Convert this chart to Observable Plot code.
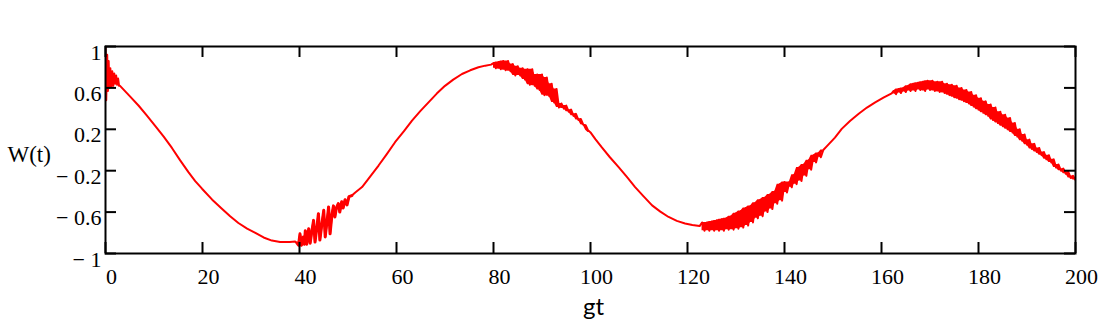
<!DOCTYPE html>
<html>
<head>
<meta charset="utf-8">
<script src="https://cdn.jsdelivr.net/npm/d3@7"></script>
<script src="https://cdn.jsdelivr.net/npm/@observablehq/plot@0.6"></script>
<style>
  html, body { margin: 0; padding: 0; background: #fff; }
</style>
</head>
<body>
<div id="chart"></div>
<script>
// ---- data: [gt, W(t)] ----
const startBurst = [
  [0, 1.0], [0.15, 0.48], [0.35, 0.92], [0.5, 0.57], [0.65, 0.86], [0.8, 0.60],
  [1.0, 0.79], [1.2, 0.61], [1.4, 0.76], [1.6, 0.62], [1.8, 0.74], [2.0, 0.64],
  [2.2, 0.72], [2.4, 0.63], [2.6, 0.69], [2.8, 0.62]
];
const descent1 = [
  [3.0, 0.62], [5, 0.52], [6.8, 0.43], [8.5, 0.335], [10.2, 0.236], [12, 0.13],
  [13.7, 0.02], [15.4, -0.10], [17.1, -0.214], [18.5, -0.30], [19.9, -0.374],
  [22, -0.48], [24, -0.567], [25.7, -0.64], [27.4, -0.705], [29.2, -0.76],
  [30.9, -0.80], [32.6, -0.845], [34.3, -0.875], [36, -0.888], [38, -0.888], [39.1, -0.885]
];
const trough1Jitter = [
  [39.5, -0.90], [39.8, -0.92], [40.1, -0.81], [40.4, -0.92], [40.8, -0.84], [41.0, -0.91],
  [41.2, -0.78], [41.5, -0.91], [41.9, -0.76], [42.2, -0.90], [42.5, -0.80], [42.9, -0.68],
  [43.2, -0.89], [43.6, -0.74], [43.9, -0.615], [44.2, -0.87], [44.6, -0.72], [45.0, -0.583],
  [45.3, -0.84], [45.7, -0.68], [46.0, -0.551], [46.3, -0.81], [46.7, -0.62], [47.0, -0.54],
  [47.3, -0.647], [47.6, -0.56], [48.0, -0.518], [48.3, -0.60], [48.7, -0.50], [49.0, -0.56],
  [49.4, -0.48], [49.8, -0.53], [50.2, -0.45], [50.8, -0.44]
];
const rise1 = [
  [51.5, -0.41], [52.9, -0.358], [54.6, -0.255], [56.3, -0.15], [58, -0.04], [59.7, 0.075],
  [61.5, 0.18], [63.2, 0.284], [64.9, 0.375], [66.6, 0.46], [68.3, 0.545], [70, 0.62],
  [71.7, 0.68], [73.5, 0.734], [75.2, 0.77], [76.9, 0.80], [78.3, 0.815], [79.5, 0.825]
];
const peak1Jitter = [
  [80.0, 0.84], [80.5, 0.79], [81.0, 0.85], [81.5, 0.78], [82.0, 0.86], [82.5, 0.77],
  [83.0, 0.86], [83.5, 0.76], [84.0, 0.83], [84.5, 0.72], [85.0, 0.81], [85.5, 0.72],
  [86.0, 0.79], [86.5, 0.68], [87.0, 0.78], [87.5, 0.63], [88.0, 0.78], [88.5, 0.62],
  [89.0, 0.73], [89.5, 0.58], [90.0, 0.73], [90.5, 0.53], [91.0, 0.70], [91.5, 0.52],
  [92.0, 0.64], [92.5, 0.46], [93.0, 0.59], [93.5, 0.41], [94.0, 0.45], [94.5, 0.40],
  [95.0, 0.43], [95.5, 0.37], [96.0, 0.39], [96.5, 0.33], [97.0, 0.35], [97.5, 0.29],
  [98.0, 0.30], [98.5, 0.245], [99.0, 0.24], [99.5, 0.19], [100.0, 0.17]
];
const descent2 = [
  [101, 0.105], [102.3, 0.027], [104, -0.07], [105.8, -0.166], [107.5, -0.26],
  [109.2, -0.358], [111, -0.45], [112.7, -0.535], [114.4, -0.595], [116.1, -0.647],
  [117.8, -0.685], [119.5, -0.71], [121, -0.725], [122.5, -0.735]
];
const trough2Jitter = [
  [123.0, -0.70], [123.5, -0.78], [124.0, -0.70], [124.5, -0.78], [125.0, -0.69], [125.5, -0.78],
  [126.0, -0.68], [126.5, -0.78], [127.0, -0.67], [127.5, -0.78], [128.0, -0.66], [128.5, -0.77],
  [129.0, -0.64], [129.5, -0.77], [130.0, -0.61], [130.5, -0.76], [131.0, -0.59], [131.5, -0.75],
  [132.0, -0.56], [132.5, -0.73], [133.0, -0.54], [133.5, -0.70], [134.0, -0.51], [134.5, -0.66],
  [135.0, -0.48], [135.5, -0.64], [136.0, -0.46], [136.5, -0.60], [137.0, -0.43], [137.5, -0.57],
  [138.0, -0.40], [138.5, -0.52], [139.0, -0.33], [139.5, -0.49], [140.0, -0.31], [140.5, -0.41],
  [141.0, -0.31], [141.5, -0.36], [142.0, -0.24], [142.5, -0.33], [143.0, -0.17], [143.5, -0.30],
  [144.0, -0.14], [144.5, -0.25], [145.0, -0.10], [145.5, -0.19], [146.0, -0.05], [146.5, -0.12],
  [147.0, -0.03], [147.5, -0.07], [148.0, 0.0]
];
const rise2 = [
  [148.7, 0.035], [150.4, 0.12], [151.8, 0.204], [153.5, 0.28], [155.3, 0.35], [157, 0.41],
  [158.7, 0.46], [160.4, 0.505], [162.1, 0.547]
];
const peak2Jitter = [
  [162.5, 0.57], [163.0, 0.54], [163.5, 0.59], [164.0, 0.55], [164.5, 0.60], [165.0, 0.56],
  [165.5, 0.62], [166.0, 0.57], [166.5, 0.64], [167.0, 0.57], [167.5, 0.65], [168.0, 0.58],
  [168.5, 0.66], [169.0, 0.57], [169.5, 0.67], [170.0, 0.58], [170.5, 0.67], [171.0, 0.57],
  [171.5, 0.66], [172.0, 0.56], [172.5, 0.66], [173.0, 0.55], [173.5, 0.64], [174.0, 0.53],
  [174.5, 0.63], [175.0, 0.51], [175.5, 0.62], [176.0, 0.49], [176.5, 0.60], [177.0, 0.47],
  [177.5, 0.58], [178.0, 0.45], [178.5, 0.56], [179.0, 0.42], [179.5, 0.53], [180.0, 0.39],
  [180.5, 0.50], [181.0, 0.36], [181.5, 0.47], [182.0, 0.33], [182.5, 0.44], [183.0, 0.29],
  [183.5, 0.41], [184.0, 0.26], [184.5, 0.37], [185.0, 0.23], [185.5, 0.34], [186.0, 0.20],
  [186.5, 0.31], [187.0, 0.17], [187.5, 0.26], [188.0, 0.13], [188.5, 0.20], [189.0, 0.09],
  [189.5, 0.15], [190.0, 0.05], [190.5, 0.10], [191.0, 0.01], [191.5, 0.06], [192.0, -0.02],
  [192.5, 0.02], [193.0, -0.05], [193.5, -0.02], [194.0, -0.09], [194.5, -0.05], [195.0, -0.12],
  [195.5, -0.09], [196.0, -0.17], [196.5, -0.14], [197.0, -0.20], [197.5, -0.18], [198.0, -0.23],
  [198.5, -0.21], [199.0, -0.27], [199.5, -0.25], [200.0, -0.29]
];

const xTicks = [0, 20, 40, 60, 80, 100, 120, 140, 160, 180, 200];
const yTicks = [-1, -0.6, -0.2, 0.2, 0.6, 1];
const xLabel = "gt";
const yLabel = "W(t)";

// ---- build tables ----
const toRows = arr => arr.map(([t, w]) => ({t, w}));
const points = toRows([
  ...startBurst, ...descent1, ...trough1Jitter, ...rise1, ...peak1Jitter,
  ...descent2, ...trough2Jitter, ...rise2, ...peak2Jitter
]);
const spikes = toRows(trough1Jitter);
// filled jitter bands (between neighbouring extremes of the read zigzags)
const bands = [peak1Jitter, trough2Jitter, peak2Jitter].map(toRows);

const W = 1102, H = 328;
const mL = 105, mR = 27, mT = 46, mB = 75;
const frameW = W - mL - mR, frameH = H - mT - mB;
const tickLen = 11;
const red = "#ff0000";
const serif = "'Liberation Serif', 'Times New Roman', serif";
const fmtY = d => d < 0 ? "\u2212 " + Math.abs(d) : String(d);

const bandMarks = bands.map(rows =>
  Plot.areaY(rows, Plot.map(
    {y1: Plot.window({k: 2, anchor: "start", reduce: "min"}),
     y2: Plot.window({k: 2, anchor: "start", reduce: "max"})},
    {x: "t", y1: "w", y2: "w", fill: red, clip: true}
  ))
);

const chart = Plot.plot({
  width: W, height: H,
  marginLeft: mL, marginRight: mR, marginTop: mT, marginBottom: mB,
  x: {domain: [0, 200]},
  y: {domain: [-1, 1]},
  style: {fontFamily: serif, background: "#fff", color: "#000"},
  marks: [
    ...bandMarks,
    Plot.line(points, {x: "t", y: "w", stroke: red, strokeWidth: 2, clip: true}),
    Plot.line(spikes, {x: "t", y: "w", stroke: red, strokeWidth: 3, clip: true}),
    Plot.frame({stroke: "#000", strokeWidth: 2}),
    // inward ticks on all four sides
    Plot.ruleX(xTicks, {x: d => d, insetTop: frameH - tickLen, stroke: "#000", strokeWidth: 2}),
    Plot.ruleX(xTicks, {x: d => d, insetBottom: frameH - tickLen, stroke: "#000", strokeWidth: 2}),
    Plot.ruleY(yTicks, {y: d => d, insetRight: frameW - tickLen, stroke: "#000", strokeWidth: 2}),
    Plot.ruleY(yTicks, {y: d => d, insetLeft: frameW - tickLen, stroke: "#000", strokeWidth: 2}),
    // tick labels
    Plot.axisX({ticks: xTicks, tickSize: 0, tickPadding: 15, dx: 6, label: null,
      fontSize: 22, fontFamily: serif, tickFormat: d => String(d)}),
    Plot.axisY({ticks: yTicks, tickSize: 0, tickPadding: 4, dy: 6, label: null,
      fontSize: 22, fontFamily: serif, tickFormat: fmtY}),
    // axis titles
    Plot.text([xLabel], {text: d => d, frameAnchor: "bottom", dx: 3, dy: 61, fontSize: 24,
      fontFamily: "Lato, 'Liberation Sans', sans-serif"}),
    Plot.text([yLabel], {text: d => d, frameAnchor: "left", dx: -98, dy: 5, textAnchor: "start",
      fontSize: 23, fontFamily: serif})
  ]
});
document.getElementById("chart").appendChild(chart);
</script>
</body>
</html>
